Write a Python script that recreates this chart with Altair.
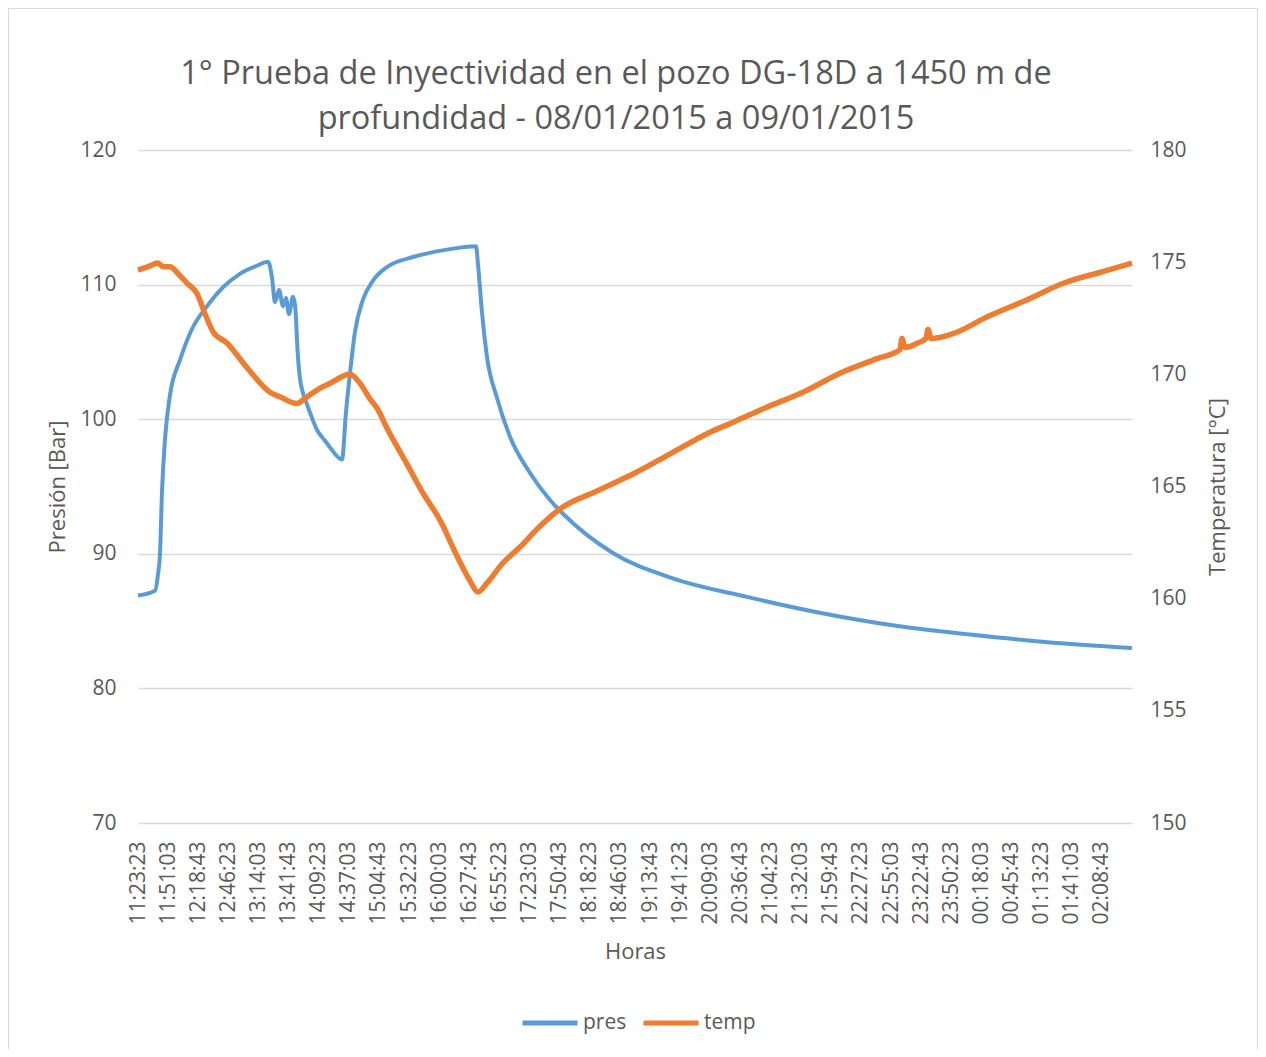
import altair as alt
import pandas as pd

# ---- data ----
# elapsed time in minutes since 11:23:23
pres_t = [0.0, 15.6, 18.4, 20.2, 22.0, 24.8, 29.4, 38.6, 49.6, 63.4, 78.1, 93.7, 109.3,
          119.4, 123.1, 125.8, 129.5, 133.2, 135.9, 138.7, 142.3, 144.2, 145.1, 146.0, 148.8,
          150.7, 155.2, 159.8, 164.4, 171.8, 176.4, 187.4, 191.0, 194.7, 199.3, 206.7, 215.9,
          228.7, 252.6, 283.8, 310.5, 312.3, 316.0, 320.6, 329.7, 341.7, 360.1, 378.4, 391.3,
          435.4, 490.5, 559.4, 627.3, 696.2, 764.2, 833.1, 913.0]
pres_v = [86.9, 87.25, 88.5, 90.0, 94.5, 98.5, 101.8, 104.4, 106.7, 108.4, 109.8, 110.8, 111.4,
          111.7, 110.5, 108.7, 109.6, 108.4, 109.0, 107.8, 109.1, 108.5, 107.5, 105.9, 103.0,
          102.2, 101.1, 100.1, 99.2, 98.4, 97.9, 97.0, 100.5, 103.4, 106.5, 108.9, 110.3,
          111.3, 112.05, 112.6, 112.85, 111.5, 107.9, 104.6, 101.6, 98.7, 96.0, 94.0, 92.9,
          90.1, 88.2, 86.8, 85.6, 84.65, 84.0, 83.45, 83.0]

temp_t = [0.0, 9.2, 18.4, 23.0, 29.4, 36.7, 45.0, 54.2, 61.5, 68.9, 81.7, 100.1, 121.2,
          130.4, 146.0, 152.5, 164.4, 176.4, 194.7, 203.9, 213.1, 219.5, 228.7, 247.1,
          261.8, 277.4, 293.0, 304.9, 312.3, 320.6, 335.3, 350.9, 366.5, 387.6, 421.6,
          456.5, 490.5, 524.5, 548.3, 575.9, 610.8, 644.8, 678.8, 699.9, 701.7, 704.5,
          716.4, 723.8, 725.6, 728.4, 747.7, 781.6, 815.6, 850.5, 884.5, 913.0]
temp_v = [174.65, 174.8, 174.96, 174.8, 174.8, 174.5, 174.07, 173.6, 172.7, 171.9, 171.4, 170.3, 169.2,
          169.0, 168.7, 168.9, 169.3, 169.6, 170.0, 169.6, 168.9, 168.5, 167.6, 166.0,
          164.7, 163.5, 161.9, 160.8, 160.3, 160.7, 161.6, 162.3, 163.1, 164.0, 164.8,
          165.6, 166.5, 167.4, 167.9, 168.5, 169.2, 170.05, 170.7, 171.1, 171.6, 171.2,
          171.4, 171.6, 172.0, 171.6, 171.8, 172.6, 173.3, 174.07, 174.56, 174.96]

tick_labels = ["11:23:23", "11:51:03", "12:18:43", "12:46:23", "13:14:03", "13:41:43",
               "14:09:23", "14:37:03", "15:04:43", "15:32:23", "16:00:03", "16:27:43",
               "16:55:23", "17:23:03", "17:50:43", "18:18:23", "18:46:03", "19:13:43",
               "19:41:23", "20:09:03", "20:36:43", "21:04:23", "21:32:03", "21:59:43",
               "22:27:23", "22:55:03", "23:22:43", "23:50:23", "00:18:03", "00:45:43",
               "01:13:23", "01:41:03", "02:08:43"]
tick_step = 1660 / 60.0  # minutes between labels
series = ["pres", "temp"]
colors = ["#5B9BD5", "#ED7D31"]

FONT = "Open Sans"
GREY = "#595959"

pres_df = pd.DataFrame({"t": pres_t, "v": pres_v, "s": "pres"})
temp_df = pd.DataFrame({"t": temp_t, "v": temp_v, "s": "temp"})

tick_vals = [i * tick_step for i in range(len(tick_labels))]
label_expr = "[" + ",".join("'%s'" % l for l in tick_labels) + "][round(datum.value / %f)]" % tick_step

x_enc = alt.X("t:Q",
              scale=alt.Scale(domain=[0, 33 * tick_step], nice=False, zero=False),
              axis=alt.Axis(values=tick_vals, labelExpr=label_expr, labelAngle=-90,
                            title="Horas", ticks=False, domain=False, grid=False,
                            labelPadding=18, titleY=128, titleBaseline="middle",
                            labelFlush=False, labelOverlap=False))

color_enc = alt.Color("s:N", scale=alt.Scale(domain=series, range=colors),
                      legend=alt.Legend(title=None, orient="none", legendX=382, legendY=843,
                                        direction="horizontal", symbolType="stroke",
                                        symbolSize=3025, symbolStrokeWidth=5,
                                        labelFontSize=21, labelFont=FONT, labelColor=GREY,
                                        labelOffset=3, columnPadding=6))

pres_line = alt.Chart(pres_df).mark_line(strokeWidth=4, interpolate="monotone").encode(
    x=x_enc,
    y=alt.Y("v:Q", scale=alt.Scale(domain=[70, 120], nice=False, zero=False),
            axis=alt.Axis(values=[70, 80, 90, 100, 110, 120], title="Presión [Bar]",
                          grid=True, gridColor="#D9D9D9", gridWidth=1.3,
                          ticks=False, domain=False, labelPadding=22,
                          titleX=-81, titleY=336.5, titleAngle=-90,
                          titleBaseline="middle", titleAlign="center")),
    color=color_enc,
)

temp_line = alt.Chart(temp_df).mark_line(strokeWidth=5.5, interpolate="monotone").encode(
    x=x_enc,
    y=alt.Y("v:Q", scale=alt.Scale(domain=[150, 180], nice=False, zero=False),
            axis=alt.Axis(values=[150, 155, 160, 165, 170, 175, 180], title="Temperatura [°C]",
                          orient="right", grid=False, ticks=False, domain=False,
                          labelPadding=18, titleX=85, titleY=336.5, titleAngle=-90,
                          titleBaseline="middle", titleAlign="center")),
    color=color_enc,
)

border = alt.Chart(pd.DataFrame({"a": [0]})).mark_rect(
    fill=None, stroke="#D9D9D9", strokeWidth=1.2, clip=False
).encode(x=alt.value(-129.5), x2=alt.value(1119.5), y=alt.value(-141.5), y2=alt.value(1000))

chart = alt.layer(border, pres_line, temp_line).resolve_scale(y="independent").properties(
    width=994, height=673,
    autosize=alt.AutoSizeParams(type="none"),
    padding={"left": 130, "top": 142, "right": 126, "bottom": 226},
    title=alt.TitleParams(
        text=["1° Prueba de Inyectividad en el pozo DG-18D a 1450 m de",
              "profundidad - 08/01/2015 a 09/01/2015"],
        anchor="middle", frame="group", dx=-19, dy=146, offset=18,
        fontSize=32.5, font=FONT, fontWeight="normal", color=GREY, lineHeight=45),
).configure(background="white").configure_view(stroke=None).configure_axis(
    labelFont=FONT, labelFontSize=21, labelColor=GREY,
    titleFont=FONT, titleFontSize=22, titleColor=GREY, titleFontWeight="normal",
)

chart.save("out.html", embed_options={"renderer": "svg", "actions": False})
